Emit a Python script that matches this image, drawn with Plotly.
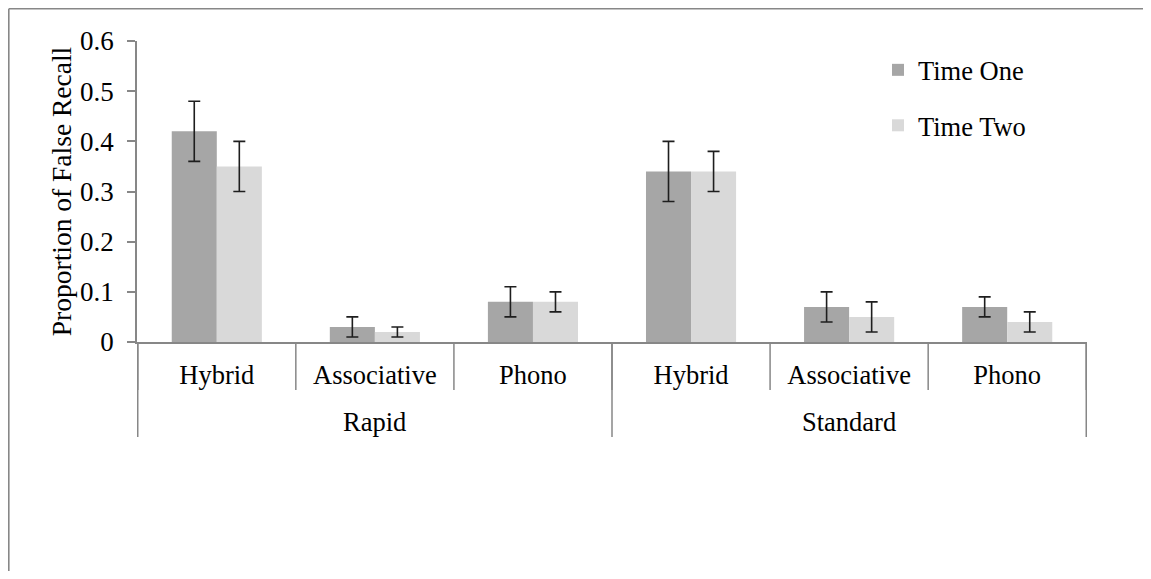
import plotly.graph_objects as go

# ---- data ----
groups = ["Rapid", "Rapid", "Rapid", "Standard", "Standard", "Standard"]
conditions = ["Hybrid", "Associative", "Phono", "Hybrid", "Associative", "Phono"]
time_one = [0.42, 0.03, 0.08, 0.34, 0.07, 0.07]
time_one_err = [0.06, 0.02, 0.03, 0.06, 0.03, 0.02]
time_two = [0.35, 0.02, 0.08, 0.34, 0.05, 0.04]
time_two_err = [0.05, 0.01, 0.02, 0.04, 0.03, 0.02]
y_ticks = [0, 0.1, 0.2, 0.3, 0.4, 0.5, 0.6]
series_names = ["Time One", "Time Two"]

keys = [f"{g} | {c}" for g, c in zip(groups, conditions)]

FONT = "Liberation Serif, Times New Roman, serif"
AXIS_GRAY = "#878787"
W, H = 1135, 563
L, R, T, B = 129, 56, 33, 229
plot_w = W - L - R
plot_h = H - T - B

fig = go.Figure()
fig.add_trace(go.Bar(
    x=keys, y=time_one, name=series_names[0], legendgroup="a",
    marker=dict(color="#A6A6A6", line=dict(width=0)),
    error_y=dict(type="data", array=time_one_err, color="#1e1e1e", thickness=1.6, width=6),
))
fig.add_trace(go.Bar(
    x=keys, y=time_two, name=series_names[1], legendgroup="b",
    marker=dict(color="#D9D9D9", line=dict(width=0)),
    error_y=dict(type="data", array=time_two_err, color="#1e1e1e", thickness=1.6, width=6),
))

def px_down(p):
    return -p / plot_h

shapes = []
# category boundary ticks
for i in range(len(keys) + 1):
    shapes.append(dict(type="line", xref="x", yref="paper", x0=i - 0.5, x1=i - 0.5,
                       y0=0, y1=px_down(48), line=dict(color=AXIS_GRAY, width=1.5)))
# group dividers
bounds = [0] + [i for i in range(1, len(groups)) if groups[i] != groups[i - 1]] + [len(groups)]
for b in bounds:
    shapes.append(dict(type="line", xref="x", yref="paper", x0=b - 0.5, x1=b - 0.5,
                       y0=0, y1=px_down(95), line=dict(color=AXIS_GRAY, width=1.5)))
# chart border (top and left), at the figure edge
bx = (0.8 - L) / plot_w
by = (H - B - 0.8) / plot_h
shapes.append(dict(type="line", xref="paper", yref="paper",
                   x0=bx, x1=(W + 10 - L) / plot_w, y0=by, y1=by,
                   line=dict(color=AXIS_GRAY, width=1.6)))
shapes.append(dict(type="line", xref="paper", yref="paper",
                   x0=bx, x1=bx, y0=by, y1=-(B + 10) / plot_h,
                   line=dict(color=AXIS_GRAY, width=1.6)))

annotations = []
for s, e in zip(bounds[:-1], bounds[1:]):
    annotations.append(dict(text=groups[s], x=(s + e - 1) / 2, xref="x", yref="paper",
                            y=px_down(80), yanchor="middle", showarrow=False,
                            font=dict(family=FONT, size=26.5, color="black")))

fig.update_layout(
    width=W, height=H,
    margin=dict(l=L, r=R, t=T, b=B, autoexpand=False),
    paper_bgcolor="white", plot_bgcolor="white",
    barmode="group", bargap=0.43, bargroupgap=0,
    font=dict(family=FONT, size=26.5, color="black"),
    showlegend=True,
    legend=dict(x=0.78, y=0.983, xanchor="left", yanchor="top",
                font=dict(family=FONT, size=26.5, color="black"),
                bgcolor="rgba(0,0,0,0)", tracegroupgap=18, traceorder="grouped"),
    shapes=shapes, annotations=annotations,
)
fig.update_xaxes(type="category", categoryorder="array", categoryarray=keys,
                 tickmode="array", tickvals=keys, ticktext=conditions,
                 ticks="", showline=True, linecolor=AXIS_GRAY, linewidth=2,
                 showgrid=False, zeroline=False, ticklabelstandoff=8,
                 tickfont=dict(family=FONT, size=26.5, color="black"))
fig.update_yaxes(range=[0, 0.6], tickmode="array", tickvals=y_ticks,
                 ticktext=[f"{v:g}" for v in y_ticks],
                 ticks="outside", ticklen=8, tickwidth=1.5, tickcolor=AXIS_GRAY,
                 showline=True, linecolor=AXIS_GRAY, linewidth=1.5,
                 showgrid=False, zeroline=False, ticklabelstandoff=8,
                 tickfont=dict(family=FONT, size=27, color="black"),
                 title=dict(text="Proportion of False Recall", standoff=0,
                            font=dict(family=FONT, size=27.5, color="black")))

fig.write_html("out.html")
